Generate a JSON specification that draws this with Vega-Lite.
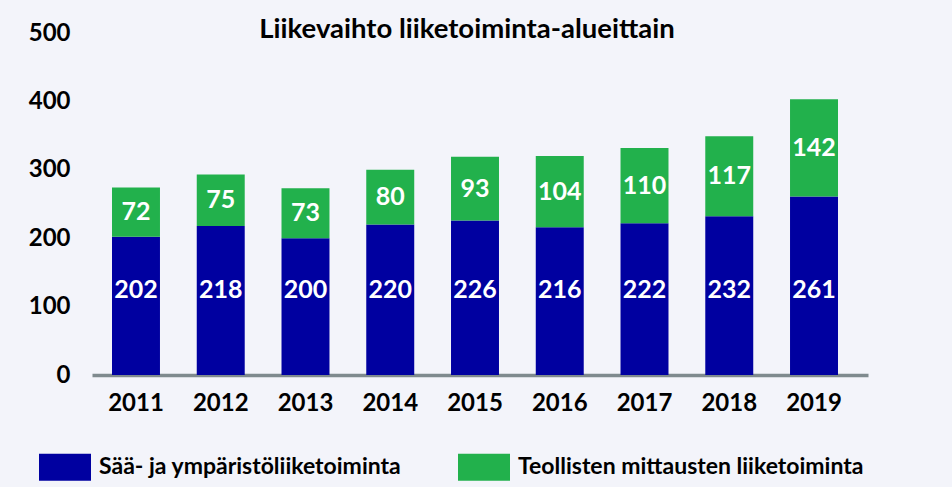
{
  "$schema": "https://vega.github.io/schema/vega-lite/v6.json",
  "autosize": "none",
  "padding": {"left": 92, "top": 33, "right": 84, "bottom": 112},
  "width": 776,
  "height": 342,
  "background": "#f3f4fa",
  "config": {"view": {"stroke": null}},
  "title": {
    "text": "Liikevaihto liiketoiminta-alueittain",
    "font": "Lato",
    "fontSize": 27.5,
    "fontWeight": "bold",
    "color": "black",
    "anchor": "middle",
    "dx": -13,
    "offset": -22
  },
  "data": {
    "values": [
      {"year": "2011", "series": "Sää- ja ympäristöliiketoiminta", "value": 202},
      {"year": "2011", "series": "Teollisten mittausten liiketoiminta", "value": 72},
      {"year": "2012", "series": "Sää- ja ympäristöliiketoiminta", "value": 218},
      {"year": "2012", "series": "Teollisten mittausten liiketoiminta", "value": 75},
      {"year": "2013", "series": "Sää- ja ympäristöliiketoiminta", "value": 200},
      {"year": "2013", "series": "Teollisten mittausten liiketoiminta", "value": 73},
      {"year": "2014", "series": "Sää- ja ympäristöliiketoiminta", "value": 220},
      {"year": "2014", "series": "Teollisten mittausten liiketoiminta", "value": 80},
      {"year": "2015", "series": "Sää- ja ympäristöliiketoiminta", "value": 226},
      {"year": "2015", "series": "Teollisten mittausten liiketoiminta", "value": 93},
      {"year": "2016", "series": "Sää- ja ympäristöliiketoiminta", "value": 216},
      {"year": "2016", "series": "Teollisten mittausten liiketoiminta", "value": 104},
      {"year": "2017", "series": "Sää- ja ympäristöliiketoiminta", "value": 222},
      {"year": "2017", "series": "Teollisten mittausten liiketoiminta", "value": 110},
      {"year": "2018", "series": "Sää- ja ympäristöliiketoiminta", "value": 232},
      {"year": "2018", "series": "Teollisten mittausten liiketoiminta", "value": 117},
      {"year": "2019", "series": "Sää- ja ympäristöliiketoiminta", "value": 261},
      {"year": "2019", "series": "Teollisten mittausten liiketoiminta", "value": 142}
    ]
  },
  "encoding": {
    "x": {
      "field": "year",
      "type": "ordinal",
      "scale": {"paddingInner": 0.434, "paddingOuter": 0.295, "align": 0.4},
      "axis": {
        "title": null,
        "labelAngle": 0,
        "labelFont": "Lato",
        "labelFontSize": 24,
        "labelFontWeight": "bold",
        "labelColor": "black",
        "labelPadding": 16,
        "ticks": false,
        "domainColor": "#7f8a8e",
        "domainWidth": 3.5
      }
    }
  },
  "layer": [
    {
      "mark": {"type": "bar"},
      "encoding": {
        "y": {
          "field": "value",
          "type": "quantitative",
          "stack": "zero",
          "scale": {"domain": [0, 500]},
          "axis": {
            "title": null,
            "values": [0, 100, 200, 300, 400, 500],
            "labelFont": "Lato",
            "labelFontSize": 24,
            "labelFontWeight": "bold",
            "labelColor": "black",
            "labelPadding": 22,
            "ticks": false,
            "domain": false,
            "grid": false
          }
        },
        "order": {"field": "series", "sort": "ascending"},
        "color": {
          "field": "series",
          "type": "nominal",
          "scale": {
            "domain": ["Sää- ja ympäristöliiketoiminta", "Teollisten mittausten liiketoiminta"],
            "range": ["#0000a0", "#22b14c"]
          },
          "legend": {
            "title": null,
            "orient": "none",
            "direction": "horizontal",
            "legendX": -53,
            "legendY": 408,
            "padding": 0,
            "symbolType": "M-1,-0.52H1V0.52H-1Z",
            "symbolSize": 2704,
            "symbolStrokeWidth": 0,
            "symbolOpacity": 1,
            "labelFont": "Lato",
            "labelFontSize": 23,
            "labelFontWeight": "bold",
            "labelColor": "black",
            "labelOffset": 8,
            "labelLimit": 0,
            "columnPadding": 56
          }
        }
      }
    },
    {
      "transform": [{"filter": "datum.series === 'Sää- ja ympäristöliiketoiminta'"}],
      "mark": {"type": "text", "font": "Lato", "fontSize": 25, "fontWeight": "bold", "color": "white", "baseline": "middle"},
      "encoding": {
        "y": {"datum": 124, "type": "quantitative"},
        "text": {"field": "value", "type": "quantitative"}
      }
    },
    {
      "mark": {"type": "text", "font": "Lato", "fontSize": 25, "fontWeight": "bold", "color": "white", "baseline": "middle"},
      "encoding": {
        "y": {"field": "value", "type": "quantitative", "stack": "zero", "bandPosition": 0.5},
        "order": {"field": "series", "sort": "ascending"},
        "detail": {"field": "series", "type": "nominal"},
        "text": {
          "condition": {"test": "datum.series === 'Teollisten mittausten liiketoiminta'", "field": "value", "type": "quantitative"},
          "value": ""
        }
      }
    }
  ]
}
